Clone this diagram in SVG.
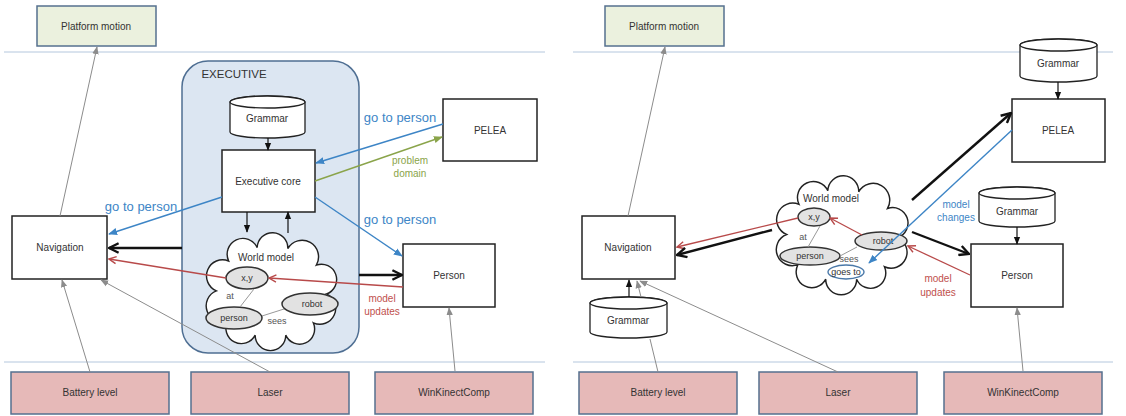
<svg xmlns="http://www.w3.org/2000/svg" width="1126" height="416" viewBox="0 0 1126 416">
<style>
text{font-family:"Liberation Sans",Arial,sans-serif;fill:#333;text-anchor:middle}
.lbl{font-size:10px}
.sm{font-size:9px}
.blue{fill:#3d85c6}
.red{fill:#c0504d}
.green{fill:#8aa44a}
.sep{stroke:#b4c7dd;stroke-width:1}
.top{fill:#ebf1de;stroke:#55708f;stroke-width:1.5}
.bot{fill:#e6b9b8;stroke:#55708f;stroke-width:1.5}
.box{fill:#fff;stroke:#222;stroke-width:1.5}
.cyl{fill:#fff;stroke:#222;stroke-width:1.3}
.ell{fill:#e2e2e2;stroke:#333;stroke-width:1.5}
.cloud{fill:#fff;stroke:#222;stroke-width:1.4}
.g{stroke:#8c8c8c;stroke-width:1;fill:none}
.gt{stroke:#999;stroke-width:1;fill:none}
.k{stroke:#111;stroke-width:1.2;fill:none}
.kk{stroke:#111;stroke-width:2.4;fill:none}
.b{stroke:#3d85c6;stroke-width:1.4;fill:none}
.r{stroke:#b84a4a;stroke-width:1.3;fill:none}
.gr{stroke:#8aa44a;stroke-width:1.4;fill:none}
</style>
<defs>
<marker id="mg" markerUnits="userSpaceOnUse" markerWidth="8" markerHeight="8" viewBox="0 0 10 10" refX="9" refY="5" orient="auto"><path d="M0,1 L10,5 L0,9 Z" fill="#8c8c8c"/></marker>
<marker id="mk" markerUnits="userSpaceOnUse" markerWidth="8" markerHeight="8" viewBox="0 0 10 10" refX="9" refY="5" orient="auto"><path d="M0,1 L10,5 L0,9 Z" fill="#111"/></marker>
<marker id="mkk" markerUnits="userSpaceOnUse" markerWidth="12" markerHeight="12" viewBox="0 0 10 10" refX="9" refY="5" orient="auto"><path d="M1,1 L9,5 L1,9" fill="none" stroke="#111" stroke-width="2"/></marker>
<marker id="mb" markerUnits="userSpaceOnUse" markerWidth="9" markerHeight="9" viewBox="0 0 10 10" refX="9" refY="5" orient="auto"><path d="M0,1 L10,5 L0,9 Z" fill="#3d85c6"/></marker>
<marker id="mr" markerUnits="userSpaceOnUse" markerWidth="9" markerHeight="9" viewBox="0 0 10 10" refX="9" refY="5" orient="auto"><path d="M1,1 L9,5 L1,9" fill="none" stroke="#b84a4a" stroke-width="1.6"/></marker>
<marker id="mgr" markerUnits="userSpaceOnUse" markerWidth="9" markerHeight="9" viewBox="0 0 10 10" refX="9" refY="5" orient="auto"><path d="M0,1 L10,5 L0,9 Z" fill="#8aa44a"/></marker>
<path id="cloudShape" d="M20,62 A14,14 0 0 1 32,33 A14,14 0 0 1 60,20 A14,14 0 0 1 90,21 A14,14 0 0 1 118,37 A14,14 0 0 1 128,65 A14,14 0 0 1 115,93 A14,14 0 0 1 88,105 A14,14 0 0 1 58,105 A14,14 0 0 1 31,91 A14,14 0 0 1 20,62 Z"/>
</defs>
<rect width="1126" height="416" fill="#fff"/>

<g id="separators">
<line class="sep" x1="4" y1="52" x2="545" y2="52"/>
<line class="sep" x1="4" y1="362" x2="545" y2="362"/>
<line class="sep" x1="573" y1="52" x2="1113" y2="52"/>
<line class="sep" x1="573" y1="362" x2="1113" y2="362"/>
</g>

<!-- LEFT PANEL -->
<g id="L-platform"><rect class="top" x="37" y="6" width="119" height="40"/><text class="lbl" x="96" y="30">Platform motion</text></g>
<g id="L-executive"><rect x="182" y="61" width="177" height="292" rx="26" fill="#dce6f2" stroke="#4f6f93" stroke-width="1.5"/><text x="234" y="78" style="font-size:11.5px;text-anchor:middle">EXECUTIVE</text></g>
<g id="L-grammar"><path class="cyl" d="M230,102 A37.5,6 0 0 1 305,102 V132 A37.5,6 0 0 1 230,132 Z"/><ellipse class="cyl" cx="267.5" cy="102" rx="37.5" ry="6"/><text class="lbl" x="267" y="122">Grammar</text></g>
<g id="L-core"><rect class="box" x="222" y="150" width="93" height="62"/><text class="lbl" x="268" y="185">Executive core</text></g>
<g id="L-world"><use href="#cloudShape" class="cloud" transform="translate(196,227) scale(1.02,1.03)"/><text class="lbl" x="266" y="261">World model</text></g>
<g id="L-xy"><ellipse class="ell" cx="247" cy="278" rx="21" ry="11"/><text class="sm" x="247" y="281">x,y</text></g>
<g id="L-robot"><ellipse class="ell" cx="310" cy="304" rx="28" ry="11"/><text class="sm" x="312" y="307">robot</text></g>
<g id="L-person"><ellipse class="ell" cx="234" cy="318" rx="28" ry="11"/><text class="sm" x="234" y="321">person</text></g>
<g id="L-nav"><rect class="box" x="12" y="216" width="95" height="63"/><text class="lbl" x="60" y="251">Navigation</text></g>
<g id="L-pelea"><rect class="box" x="443" y="99" width="94" height="62"/><text class="lbl" x="490" y="134">PELEA</text></g>
<g id="L-personbox"><rect class="box" x="403" y="244" width="92" height="63"/><text class="lbl" x="449" y="279">Person</text></g>
<g id="L-battery"><rect class="bot" x="11" y="372" width="158" height="42"/><text class="lbl" x="90" y="396">Battery level</text></g>
<g id="L-laser"><rect class="bot" x="191" y="372" width="158" height="42"/><text class="lbl" x="270" y="396">Laser</text></g>
<g id="L-kinect"><rect class="bot" x="375" y="372" width="158" height="42"/><text class="lbl" x="454" y="396">WinKinectComp</text></g>

<!-- RIGHT PANEL -->
<g id="R-platform"><rect class="top" x="605" y="6" width="119" height="40"/><text class="lbl" x="664" y="30">Platform motion</text></g>
<g id="R-nav"><rect class="box" x="582" y="216" width="93" height="63"/><text class="lbl" x="628" y="251">Navigation</text></g>
<g id="R-grammar-nav"><path class="cyl" d="M590,303 A38.5,6 0 0 1 667,303 V332 A38.5,6 0 0 1 590,332 Z"/><ellipse class="cyl" cx="628.5" cy="303" rx="38.5" ry="6"/><text class="lbl" x="628" y="324">Grammar</text></g>
<g id="R-world"><use href="#cloudShape" class="cloud" transform="translate(766,170) scale(1.03,1.04)"/><text class="lbl" x="831" y="202">World model</text></g>
<g id="R-xy"><ellipse class="ell" cx="814" cy="217" rx="16" ry="9"/><text class="sm" x="814" y="220">x,y</text></g>
<g id="R-person"><ellipse class="ell" cx="810" cy="256" rx="30" ry="9"/><text class="sm" x="810" y="259">person</text></g>
<g id="R-robot"><ellipse class="ell" cx="881" cy="241" rx="26" ry="9"/><text class="sm" x="883" y="244">robot</text></g>
<g id="R-goesto"><ellipse cx="846" cy="272" rx="18" ry="7" fill="#fff" stroke="#4a78a8" stroke-width="1.4"/><text class="sm" x="846" y="275">goes to</text></g>
<g id="R-pelea"><rect class="box" x="1012" y="99" width="93" height="63"/><text class="lbl" x="1058" y="134">PELEA</text></g>
<g id="R-grammar-pelea"><path class="cyl" d="M1020,45 A38.5,6 0 0 1 1097,45 V76 A38.5,6 0 0 1 1020,76 Z"/><ellipse class="cyl" cx="1058.5" cy="45" rx="38.5" ry="6"/><text class="lbl" x="1058" y="67">Grammar</text></g>
<g id="R-grammar-person"><path class="cyl" d="M979,193 A38,6 0 0 1 1055,193 V221 A38,6 0 0 1 979,221 Z"/><ellipse class="cyl" cx="1017" cy="193" rx="38" ry="6"/><text class="lbl" x="1017" y="215">Grammar</text></g>
<g id="R-personbox"><rect class="box" x="971" y="244" width="92" height="63"/><text class="lbl" x="1017" y="279">Person</text></g>
<g id="R-battery"><rect class="bot" x="579" y="372" width="158" height="42"/><text class="lbl" x="658" y="396">Battery level</text></g>
<g id="R-laser"><rect class="bot" x="759" y="372" width="158" height="42"/><text class="lbl" x="838" y="396">Laser</text></g>
<g id="R-kinect"><rect class="bot" x="944" y="372" width="158" height="42"/><text class="lbl" x="1023" y="396">WinKinectComp</text></g>

<g id="connectors">
<!-- left -->
<path class="g" d="M60,216 L97,47" marker-end="url(#mg)"/>
<path class="g" d="M90,372 L62,280" marker-end="url(#mg)"/>
<path class="g" d="M270,372 L101,280" marker-end="url(#mg)"/>
<path class="g" d="M455,371 L449,308" marker-end="url(#mg)"/>
<path class="k" d="M268,138 L268,150" marker-end="url(#mk)"/>
<path class="k" d="M247,212 L247,232" marker-end="url(#mk)"/>
<path class="k" d="M288,233 L288,212" marker-end="url(#mk)"/>
<path class="b" d="M222,197 L109,234" marker-end="url(#mb)"/>
<path class="kk" d="M182,248 L109,248" marker-end="url(#mkk)"/>
<path class="r" d="M226,278 L109,259" marker-end="url(#mr)"/>
<path class="r" d="M403,287 L269,278" marker-end="url(#mr)"/>
<path class="kk" d="M359,275 L402,275" marker-end="url(#mkk)"/>
<path class="b" d="M315,197 L402,256" marker-end="url(#mb)"/>
<path class="b" d="M443,124 L316,163" marker-end="url(#mb)"/>
<path class="gr" d="M315,181 L442,137" marker-end="url(#mgr)"/>
<path class="gt" d="M254,289 L240,307"/>
<path class="gt" d="M262,316 L284,309"/>
<!-- right -->
<path class="g" d="M628,216 L665,47" marker-end="url(#mg)"/>
<path class="g" d="M658,372 L650,339"/>
<path class="g" d="M641,297 L637,281" marker-end="url(#mg)"/>
<path class="g" d="M838,372 L640,281" marker-end="url(#mg)"/>
<path class="g" d="M1023,371 L1017,308" marker-end="url(#mg)"/>
<path class="k" d="M629,297 L629,280" marker-end="url(#mk)"/>
<path class="k" d="M1058,82 L1058,99" marker-end="url(#mk)"/>
<path class="k" d="M1017,227 L1017,244" marker-end="url(#mk)"/>
<path class="r" d="M798,218 L677,247" marker-end="url(#mr)"/>
<path class="kk" d="M772,230 L677,255" marker-end="url(#mkk)"/>
<path class="r" d="M862,235 L830,218" marker-end="url(#mr)"/>
<path class="kk" d="M912,200 L1011,113" marker-end="url(#mkk)"/>
<path class="b" d="M1012,130 L869,263" marker-end="url(#mb)"/>
<path class="kk" d="M912,232 L969,254" marker-end="url(#mkk)"/>
<path class="r" d="M970,275 L908,246" marker-end="url(#mr)"/>
<path class="gt" d="M820,226 L808,247"/>
<path class="gt" d="M840,256 L857,247"/>
</g>

<g id="labels">
<text class="blue" x="141" y="211" style="font-size:13px">go to person</text>
<text class="blue" x="400" y="122" style="font-size:13px">go to person</text>
<text class="blue" x="400" y="224" style="font-size:13px">go to person</text>
<text class="green lbl" x="410" y="164">problem</text>
<text class="green lbl" x="410" y="177">domain</text>
<text class="red lbl" x="382" y="302">model</text>
<text class="red lbl" x="382" y="315">updates</text>
<text class="sm" x="230" y="299" style="fill:#555">at</text>
<text class="sm" x="277" y="324" style="fill:#555">sees</text>
<text class="blue lbl" x="956" y="208">model</text>
<text class="blue lbl" x="956" y="221">changes</text>
<text class="red lbl" x="938" y="282">model</text>
<text class="red lbl" x="938" y="296">updates</text>
<text class="sm" x="803" y="240" style="fill:#555">at</text>
<text class="sm" x="849" y="262" style="fill:#555">sees</text>
</g>
</svg>
